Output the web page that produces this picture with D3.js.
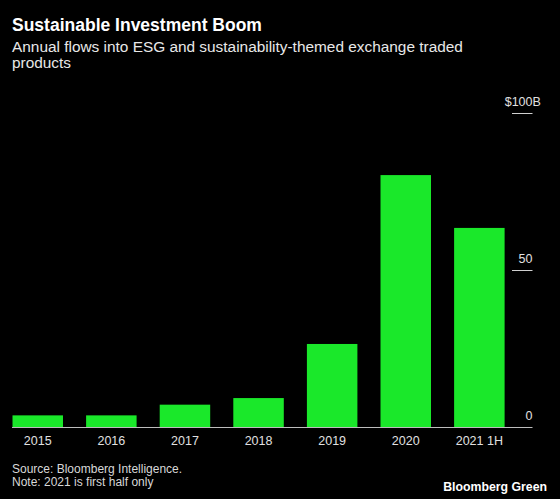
<!DOCTYPE html>
<html>
<head>
<meta charset="utf-8">
<script src="https://cdn.jsdelivr.net/npm/d3@7/dist/d3.min.js"></script>
<style>
  html, body { margin: 0; padding: 0; background: #000; }
  svg { display: block; font-family: "Liberation Sans", Arial, Helvetica, sans-serif; }
</style>
</head>
<body>
<svg id="chart" width="560" height="499"></svg>
<script>
const categories = ["2015", "2016", "2017", "2018", "2019", "2020", "2021 1H"];
const flows = [3.7, 3.7, 7.1, 9.2, 26.4, 80.1, 63.3];
const tickValues = [0, 50, 100];
const tickLabels = ["0", "50", "$100"];

const svg = d3.select("#chart");
const W = 560, H = 499;
svg.append("rect").attr("width", W).attr("height", H).attr("fill", "#000");

const x = d3.scaleBand().domain(categories).range([12.5, 504.6]).paddingInner(0.314).paddingOuter(0);
const y = d3.scaleLinear().domain([0, 100]).range([427, 112.5]);

// Title & subtitle
svg.append("text").attr("x", 12).attr("y", 30.7)
  .attr("fill", "#fff").attr("font-size", 17.5).attr("font-weight", "bold")
  .text("Sustainable Investment Boom");
const sub = svg.append("text").attr("x", 12).attr("y", 51.7)
  .attr("fill", "#e8e8e8").attr("font-size", 15.4);
sub.append("tspan").attr("x", 12).attr("y", 51.7).text("Annual flows into ESG and sustainability-themed exchange traded");
sub.append("tspan").attr("x", 12).attr("y", 68).text("products");

// Bars
svg.append("g").selectAll("rect").data(categories).join("rect")
  .attr("x", d => x(d))
  .attr("width", x.bandwidth())
  .attr("y", (d, i) => y(flows[i]))
  .attr("height", (d, i) => y(0) - y(flows[i]))
  .attr("fill", "#1ae82a");

// Baseline
svg.append("line").attr("x1", 12).attr("x2", 532.5)
  .attr("y1", y(0) + 0.5).attr("y2", y(0) + 0.5)
  .attr("stroke", "#bdbdbd").attr("stroke-width", 1);

// Right axis ticks
const tg = svg.append("g");
tickValues.forEach((v, i) => {
  if (v !== 0) {
    tg.append("line").attr("x1", 512).attr("x2", 532.5)
      .attr("y1", Math.round(y(v)) + 0.5).attr("y2", Math.round(y(v)) + 0.5)
      .attr("stroke", "#d0d0d0").attr("stroke-width", 1);
  }
  tg.append("text").attr("x", 532.5).attr("y", y(v) - 7)
    .attr("fill", "#e0e0e0").attr("font-size", 12.5).attr("text-anchor", "end")
    .text(tickLabels[i]);
  if (v === 100) {
    tg.append("text").attr("x", 532.5).attr("y", y(v) - 7)
      .attr("fill", "#e0e0e0").attr("font-size", 12.5).attr("text-anchor", "start")
      .text("B");
  }
});

// X axis labels
svg.append("g").selectAll("text").data(categories).join("text")
  .attr("x", d => x(d) + x.bandwidth() / 2)
  .attr("y", 444.5)
  .attr("text-anchor", "middle")
  .attr("fill", "#e0e0e0").attr("font-size", 12.5)
  .text(d => d);

// Footer
svg.append("text").attr("x", 12).attr("y", 473)
  .attr("fill", "#d8d8d8").attr("font-size", 12)
  .text("Source: Bloomberg Intelligence.");
svg.append("text").attr("x", 12).attr("y", 486)
  .attr("fill", "#d8d8d8").attr("font-size", 12)
  .text("Note: 2021 is first half only");
svg.append("text").attr("x", 547).attr("y", 490.7)
  .attr("fill", "#fff").attr("font-size", 12.3).attr("font-weight", "bold")
  .attr("text-anchor", "end")
  .text("Bloomberg Green");
</script>
</body>
</html>
